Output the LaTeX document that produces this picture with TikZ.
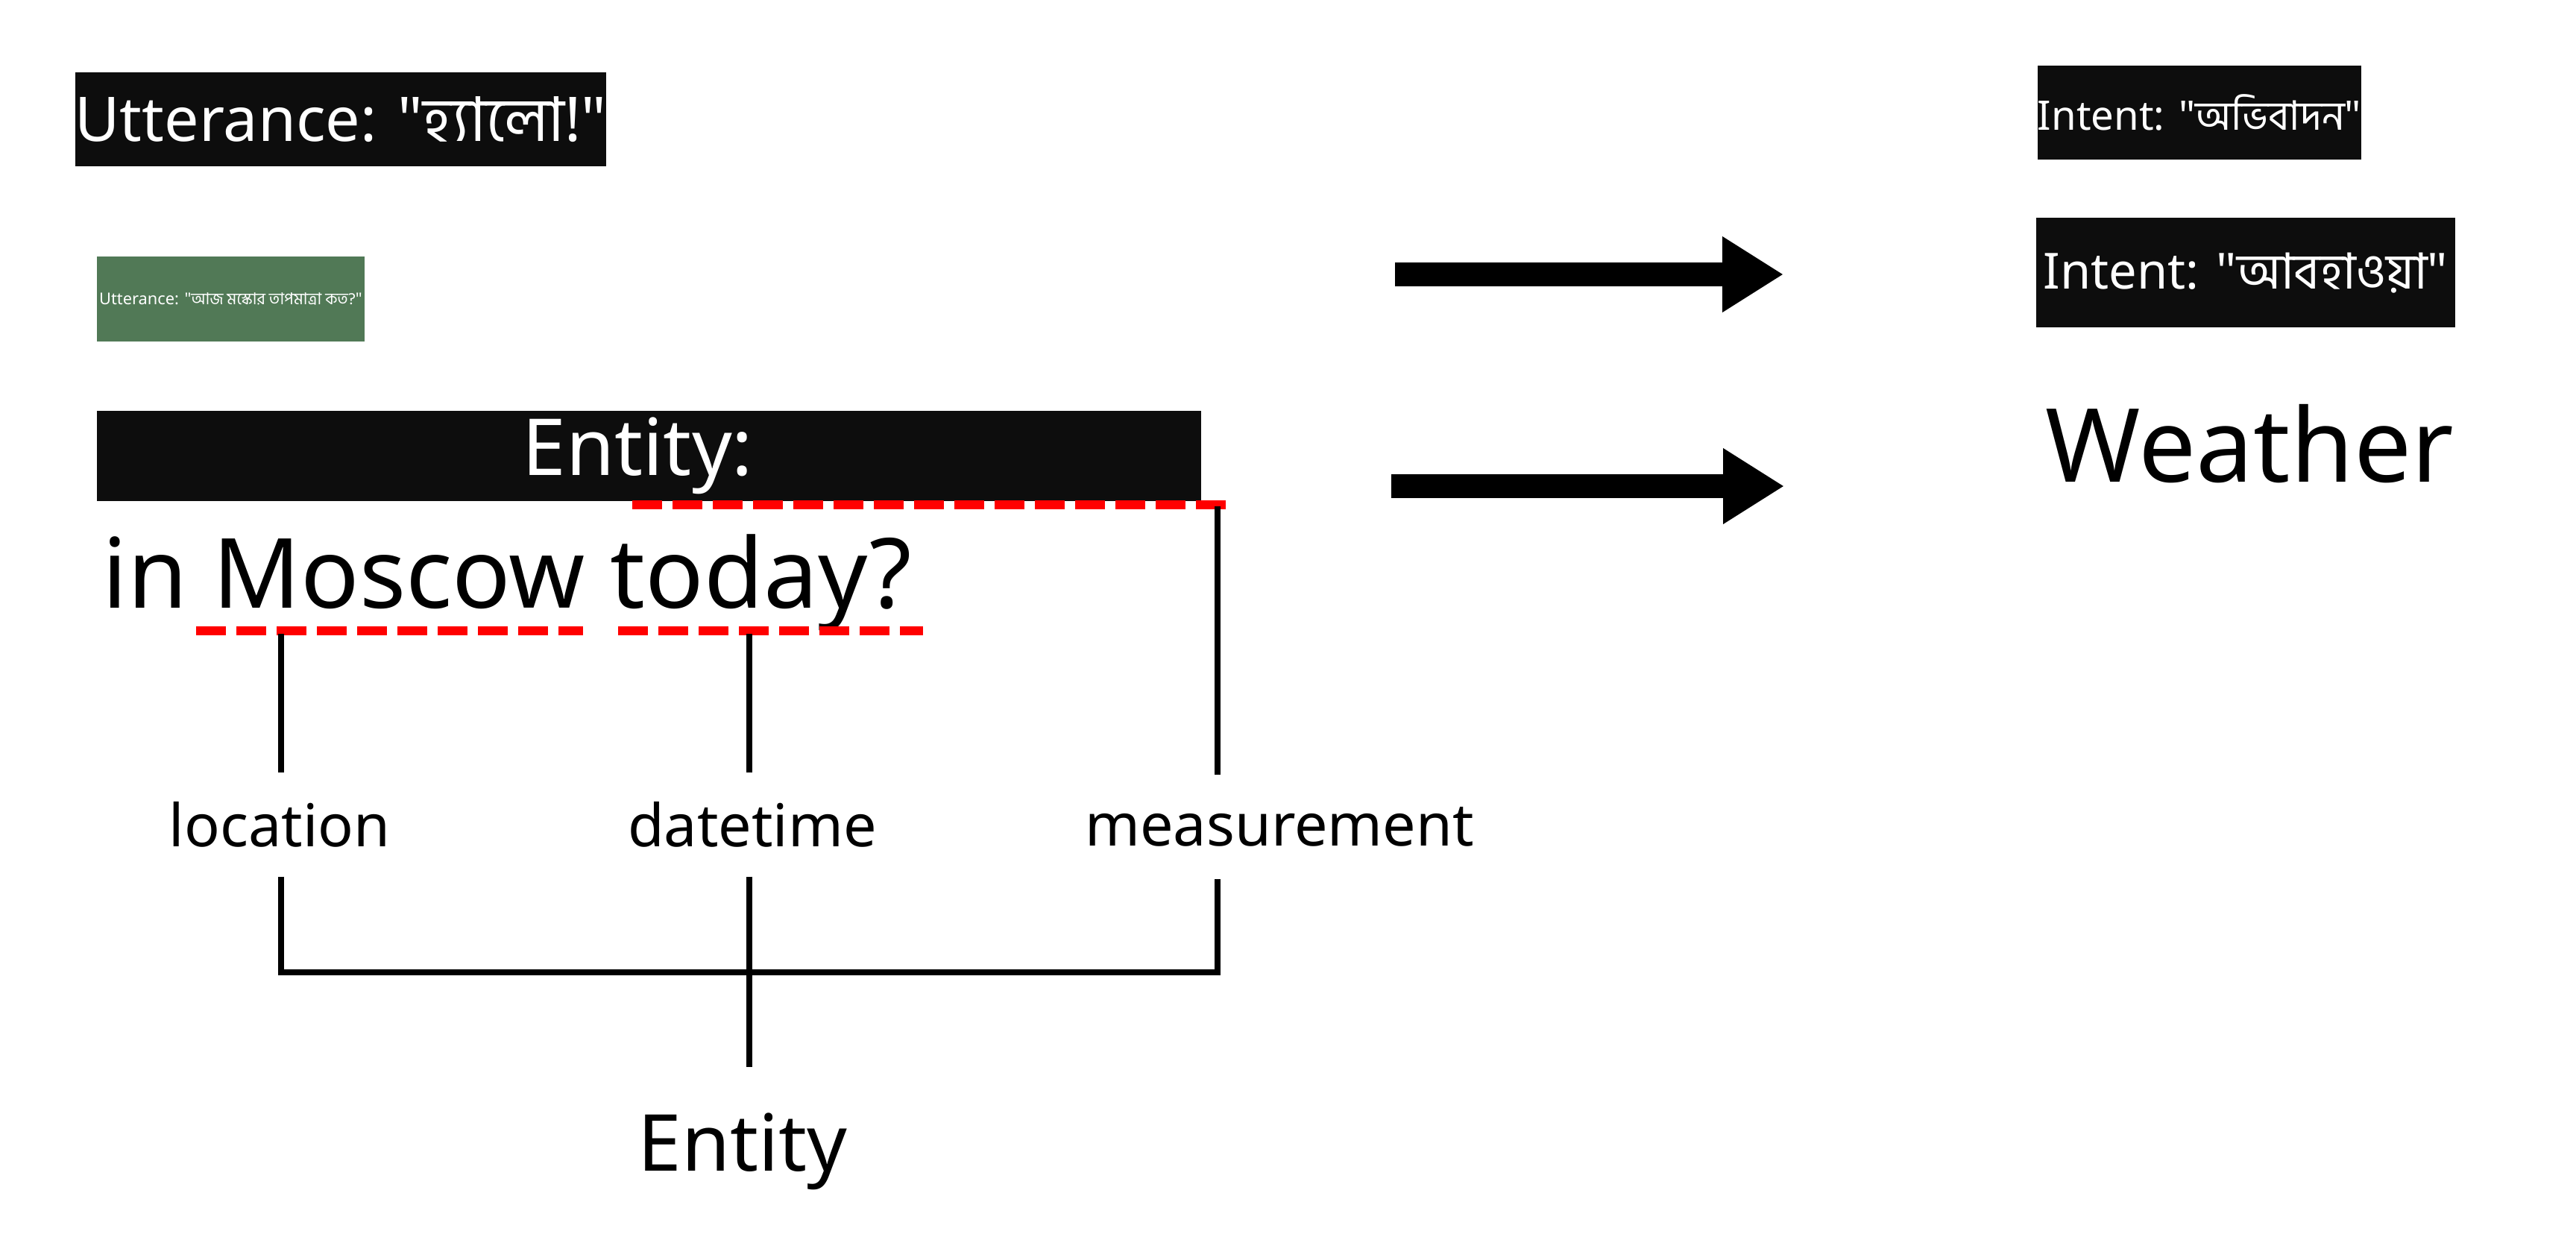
\documentclass[tikz,border=0pt]{standalone}
\usepackage{fontspec}
\setmainfont{Noto Sans}[Ligatures=TeXOff]
\newfontfamily\bnfont[Script=Bengali]{Hind Siliguri}
\usetikzlibrary{calc,
arrows.meta,
positioning}
\definecolor{boxblack}{RGB}{13,13,13}
\definecolor{uttgreen}{RGB}{81,121,86}
\newcommand*{\bn}[1]{{\bnfont #1}}

\begin{document}
\begin{tikzpicture} [
    tag node/.style={rectangle, fill = boxblack, text = white,
        align=center, inner sep = 0 mm},
    label node/.style={inner sep = 0 mm, minimum height = 1.38cm,
        font=\fontsize{22.5}{27}\selectfont},
    tree line/.style={line width = 2.3pt},
    red underline/.style={red, line width = 3.3pt,
        dash pattern = on 0.4cm off 0.14cm},
    flow arrow/.style={-{Triangle[length = 0.82cm, width = 0.96cm]},
        line width = 0.32cm}
  ]

  \useasboundingbox (0, 0) rectangle (34.55, -16.63);

  % utterances
  \node [tag node,
    minimum width = 7.08cm,
    minimum height = 1.26cm,
    font=\fontsize{23.5}{28}\selectfont
  ] (hello) at (4.57, -1.60) {Utterance: "\bn{হ্যালো}!"};

  \node [tag node,
    fill = uttgreen,
    minimum width = 3.59cm,
    minimum height = 1.14cm,
    font=\fontsize{6.2}{8}\selectfont
  ] (temp) at (3.095, -4.01) {Utterance: "\bn{আজ মস্কোর তাপমাত্রা কত?}"};

  \node [tag node,
    minimum width = 14.81cm,
    minimum height = 1.21cm,
    font=\fontsize{30}{36}\selectfont
  ] (ebox) at (8.705, -6.115) {Entity:\hspace*{0.3cm}};

  % intents
  \node [tag node,
    minimum width = 4.32cm,
    minimum height = 1.26cm,
    font=\fontsize{15.5}{19}\selectfont
  ] (greet) at (29.50, -1.51) {Intent: "\bn{অভিবাদন}"};

  \node [tag node,
    minimum width = 5.62cm,
    minimum height = 1.47cm,
    font=\fontsize{19}{23}\selectfont,
    below right = 0.77cm and -0.02cm of greet.south west
  ] (wint) {Intent: "\bn{আবহাওয়া}"};

  \node [anchor = base west, inner sep = 0 mm,
    font=\fontsize{39}{47}\selectfont
  ] (weather) at (27.43, -6.46) {Weather};

  \coordinate (a1) at (18.71, -3.68);
  \coordinate (b1) at (23.92, -3.68);
  \coordinate (a2) at (18.66, -6.52);
  \coordinate (b2) at (23.93, -6.52);
  \draw [flow arrow] (a1) -- (b1);
  \draw [flow arrow] (a2) -- (b2);

  % sentence and its entities
  \node [anchor = base west, inner sep = 0 mm,
    font=\fontsize{37}{44}\selectfont
  ] (query) at (1.37, -8.15) {in Moscow today?};

  \coordinate (entw) at (8.48, -6.77);
  \coordinate (ente) at (16.52, -6.77);
  \coordinate (mosw) at (2.63, -8.46);
  \coordinate (mose) at (7.82, -8.46);
  \coordinate (todw) at (8.29, -8.46);
  \coordinate (tode) at (12.38, -8.46);
  \draw [red underline] (entw) -- (ente);
  \draw [red underline] (mosw) -- (mose);
  \draw [red underline] (todw) -- (tode);

  \node [label node] (loc) at (3.75, -11.06) {location};
  \node [label node] (dt) at (10.09, -11.06) {datetime};
  \node [label node] (meas) at (17.16, -11.09) {measurement};
  \node [label node,
    minimum height = 2.24cm,
    font=\fontsize{30}{36}\selectfont
  ] (ent) at (9.96, -15.44) {Entity};

  \coordinate (m1) at (3.77, -8.50);
  \coordinate (t1) at (10.05, -8.50);
  \coordinate (q1) at (16.33, -6.79);
  \coordinate (jn) at (10.05, -13.04);

  \draw [tree line] (m1) -- (m1 |- loc.north);
  \draw [tree line] (t1) -- (t1 |- dt.north);
  \draw [tree line] (q1) -- (q1 |- meas.north);
  \draw [tree line] (m1 |- loc.south) -- (m1 |- jn) -- (q1 |- jn)
    -- (q1 |- meas.south);
  \draw [tree line] (t1 |- dt.south) -- (t1 |- ent.north);

\end{tikzpicture}
\end{document}
